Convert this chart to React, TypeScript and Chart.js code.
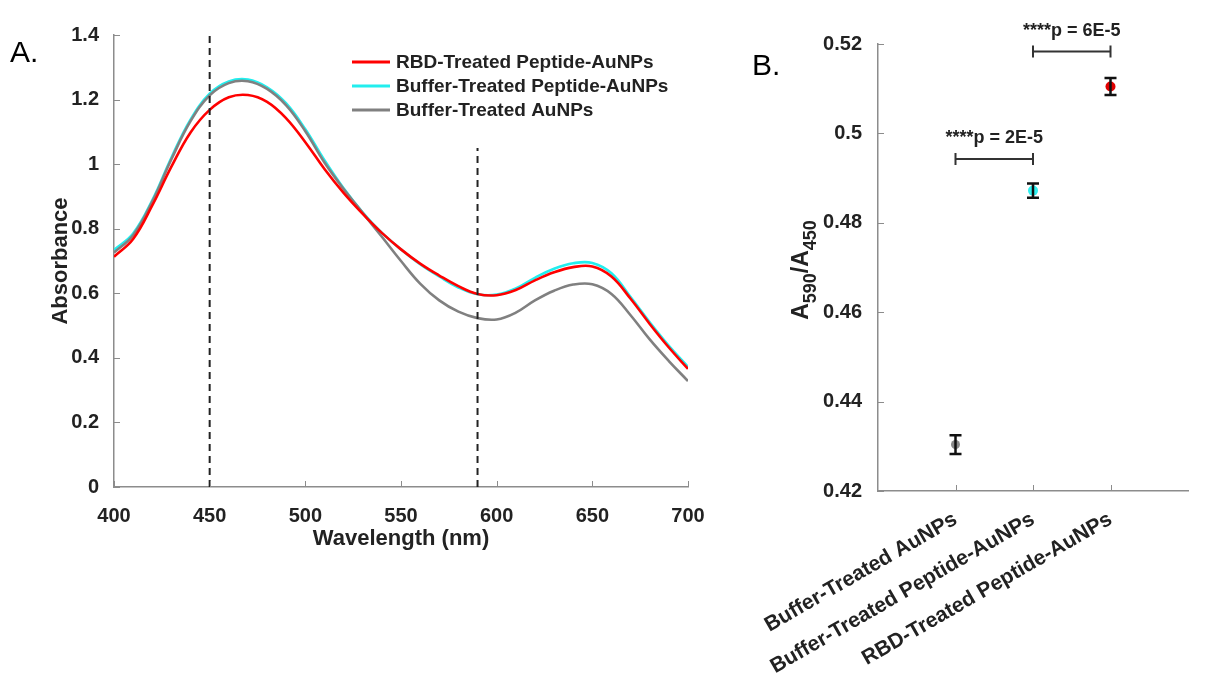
import React, { useEffect, useRef } from "react";
import { Chart, registerables } from "chart.js";

Chart.register(...registerables);

const FONT = "'Liberation Sans', Arial, Helvetica, sans-serif";
const TEXT = "#222222";
const AXIS = "#8c8c8c";

// ---------- Panel A data ----------
const wavelengths = [400, 410, 420, 430, 440, 450, 460, 470, 480, 490, 500, 510, 520, 530, 540, 550, 560, 570, 580, 590, 600, 610, 620, 630, 640, 650, 660, 670, 680, 690, 700];
const rbdPeptideAbs = [0.713, 0.768, 0.872, 0.992, 1.098, 1.168, 1.207, 1.214, 1.193, 1.142, 1.068, 0.985, 0.911, 0.846, 0.787, 0.736, 0.692, 0.655, 0.622, 0.598, 0.594, 0.61, 0.64, 0.665, 0.681, 0.683, 0.652, 0.583, 0.505, 0.432, 0.366];
const bufferPeptideAbs = [0.734, 0.785, 0.888, 1.02, 1.138, 1.218, 1.256, 1.262, 1.238, 1.188, 1.108, 1.012, 0.925, 0.85, 0.787, 0.736, 0.69, 0.652, 0.618, 0.597, 0.596, 0.615, 0.648, 0.676, 0.693, 0.694, 0.662, 0.588, 0.51, 0.437, 0.372];
const bufferAuAbs = [0.726, 0.78, 0.884, 1.015, 1.133, 1.213, 1.251, 1.257, 1.233, 1.182, 1.102, 1.005, 0.923, 0.849, 0.775, 0.7, 0.63, 0.578, 0.543, 0.523, 0.519, 0.54, 0.578, 0.608, 0.627, 0.628, 0.598, 0.532, 0.457, 0.39, 0.328];
const seriesLabelsA = ["RBD-Treated Peptide-AuNPs", "Buffer-Treated Peptide-AuNPs", "Buffer-Treated AuNPs"];
const seriesColorsA = ["#ff0000", "#22eeee", "#808080"];
const xTicksA = [400, 450, 500, 550, 600, 650, 700];
const yTicksA = [0, 0.2, 0.4, 0.6, 0.8, 1, 1.2, 1.4];
const markerWavelengths = [450, 590];
const markerTops = [1.4, 1.05];

// ---------- Panel B data ----------
const categoriesB = ["Buffer-Treated AuNPs", "Buffer-Treated Peptide-AuNPs", "RBD-Treated Peptide-AuNPs"];
const categoryPos = [1, 2, 3];
const ratioMeans = [0.4304, 0.4872, 0.5105];
const ratioErrors = [0.0021, 0.0016, 0.0019];
const ratioColors = ["#8a8a8a", "#2ff0f0", "#e00000"];
const yTicksB = [0.42, 0.44, 0.46, 0.48, 0.5, 0.52];
const sigFrom = [1, 2];
const sigTo = [2, 3];
const sigLevels = [0.4943, 0.5183];
const sigLabels = ["****p = 2E-5", "****p = 6E-5"];

const fmt = (v: number) => String(Number(Number(v).toFixed(2)));

const inwardTicks = {
  id: "inwardTicks",
  afterDraw(chart: any) {
    const { ctx, chartArea: a, scales } = chart;
    ctx.save();
    ctx.strokeStyle = AXIS;
    ctx.lineWidth = 1;
    const xs = scales.x;
    const ys = scales.y;
    xs.ticks.forEach((t: any) => {
      const p = Math.round(xs.getPixelForValue(t.value)) + 0.5;
      ctx.beginPath();
      ctx.moveTo(p, a.bottom);
      ctx.lineTo(p, a.bottom - 6);
      ctx.stroke();
    });
    ys.ticks.forEach((t: any) => {
      const p = Math.round(ys.getPixelForValue(t.value)) + 0.5;
      ctx.beginPath();
      ctx.moveTo(a.left, p);
      ctx.lineTo(a.left + 6, p);
      ctx.stroke();
    });
    ctx.restore();
  },
};

const panelLetter = (letter: string, x: number, y: number) => ({
  id: "panelLetter" + letter,
  afterDraw(chart: any) {
    const { ctx } = chart;
    ctx.save();
    ctx.fillStyle = "#000";
    ctx.font = `30px ${FONT}`;
    ctx.textBaseline = "alphabetic";
    ctx.textAlign = "left";
    ctx.fillText(letter, x, y);
    ctx.restore();
  },
});

const legendA = {
  id: "legendA",
  afterDraw(chart: any) {
    const { ctx } = chart;
    ctx.save();
    ctx.font = `bold 19px ${FONT}`;
    ctx.textBaseline = "middle";
    ctx.textAlign = "left";
    seriesLabelsA.forEach((lab, i) => {
      const y = 62 + i * 24;
      ctx.strokeStyle = seriesColorsA[i];
      ctx.lineWidth = 3;
      ctx.beginPath();
      ctx.moveTo(352, y);
      ctx.lineTo(390, y);
      ctx.stroke();
      ctx.fillStyle = TEXT;
      ctx.fillText(lab, 396, y + 1);
    });
    ctx.restore();
  },
};

const errorBarsB = {
  id: "errorBarsB",
  afterDatasetsDraw(chart: any) {
    const { ctx, scales } = chart;
    const xs = scales.x;
    const ys = scales.y;
    ctx.save();
    ctx.strokeStyle = "#111";
    ctx.lineWidth = 2.5;
    categoryPos.forEach((c, i) => {
      const x = xs.getPixelForValue(c);
      const yt = ys.getPixelForValue(ratioMeans[i] + ratioErrors[i]);
      const yb = ys.getPixelForValue(ratioMeans[i] - ratioErrors[i]);
      ctx.beginPath();
      ctx.moveTo(x, yt);
      ctx.lineTo(x, yb);
      ctx.moveTo(x - 6, yt);
      ctx.lineTo(x + 6, yt);
      ctx.moveTo(x - 6, yb);
      ctx.lineTo(x + 6, yb);
      ctx.stroke();
    });
    ctx.strokeStyle = "#333";
    ctx.lineWidth = 2;
    ctx.fillStyle = TEXT;
    ctx.font = `bold 18px ${FONT}`;
    ctx.textAlign = "center";
    ctx.textBaseline = "middle";
    sigLevels.forEach((lv, i) => {
      const x1 = xs.getPixelForValue(sigFrom[i]);
      const x2 = xs.getPixelForValue(sigTo[i]);
      const y = ys.getPixelForValue(lv);
      ctx.beginPath();
      ctx.moveTo(x1, y);
      ctx.lineTo(x2, y);
      ctx.moveTo(x1, y - 6);
      ctx.lineTo(x1, y + 6);
      ctx.moveTo(x2, y - 6);
      ctx.lineTo(x2, y + 6);
      ctx.stroke();
      ctx.fillText(sigLabels[i], (x1 + x2) / 2, y - 21);
    });
    ctx.restore();
  },
};

const yLabelB = {
  id: "yLabelB",
  afterDraw(chart: any) {
    const { ctx } = chart;
    const parts: [string, boolean][] = [["A", false], ["590", true], ["/A", false], ["450", true]];
    const big = `bold 23px ${FONT}`;
    const small = `bold 18px ${FONT}`;
    ctx.save();
    let total = 0;
    parts.forEach(([t, sub]) => {
      ctx.font = sub ? small : big;
      total += ctx.measureText(t).width;
    });
    ctx.translate(68, 270);
    ctx.rotate(-Math.PI / 2);
    ctx.fillStyle = TEXT;
    ctx.textBaseline = "alphabetic";
    ctx.textAlign = "left";
    let x = -total / 2;
    parts.forEach(([t, sub]) => {
      ctx.font = sub ? small : big;
      ctx.fillText(t, x, sub ? 8 : 0);
      x += ctx.measureText(t).width;
    });
    ctx.restore();
  },
};

export default function App() {
  const refA = useRef<HTMLCanvasElement | null>(null);
  const refB = useRef<HTMLCanvasElement | null>(null);

  useEffect(() => {
    const tickFont = { family: FONT, size: 20, weight: "bold" as const };
    const catFont = { family: FONT, size: 21, weight: "bold" as const };
    const titleFont = { family: FONT, size: 22, weight: "bold" as const };

    const line = (vals: number[], color: string) => ({
      data: wavelengths.map((x, i) => ({ x, y: vals[i] })),
      borderColor: color,
      backgroundColor: color,
      borderWidth: 2.6,
      pointRadius: 0,
      tension: 0.4,
      fill: false,
    });
    const dashed = (i: number) => ({
      data: [
        { x: markerWavelengths[i], y: 0 },
        { x: markerWavelengths[i], y: markerTops[i] },
      ],
      borderColor: "#222",
      borderWidth: 2,
      borderDash: [7, 5],
      pointRadius: 0,
      tension: 0,
      fill: false,
    });

    const chartA = new Chart(refA.current as HTMLCanvasElement, {
      type: "line",
      data: {
        datasets: [
          dashed(0),
          dashed(1),
          line(rbdPeptideAbs, seriesColorsA[0]),
          line(bufferAuAbs, seriesColorsA[2]),
          line(bufferPeptideAbs, seriesColorsA[1]),
        ],
      },
      options: {
        animation: false,
        responsive: false,
        layout: { padding: { left: 0, top: 35, right: 52, bottom: 0 } },
        plugins: { legend: { display: false }, tooltip: { enabled: false } },
        scales: {
          x: {
            type: "linear",
            min: 400,
            max: 700,
            afterBuildTicks: (s: any) => {
              s.ticks = xTicksA.map((v) => ({ value: v }));
            },
            ticks: { font: tickFont, color: TEXT, padding: 9, callback: (v: any) => fmt(v) },
            grid: { display: false },
            border: { display: true, color: AXIS, width: 1.5 },
            title: { display: true, text: "Wavelength (nm)", font: titleFont, color: TEXT, padding: { top: 0, bottom: 48 } },
            afterFit: (s: any) => {
              s.height = 113;
              s.paddingLeft = 0;
              s.paddingRight = 0;
            },
          },
          y: {
            type: "linear",
            min: 0,
            max: 1.4,
            afterBuildTicks: (s: any) => {
              s.ticks = yTicksA.map((v) => ({ value: v }));
            },
            ticks: { font: tickFont, color: TEXT, padding: 7, callback: (v: any) => fmt(v) },
            grid: { display: false },
            border: { display: true, color: AXIS, width: 1.5 },
            title: { display: true, text: "Absorbance", font: titleFont, color: TEXT, padding: { top: 48, bottom: 0 } },
            afterFit: (s: any) => {
              s.width = 114;
              s.paddingTop = 0;
              s.paddingBottom = 0;
            },
          },
        },
      } as any,
      plugins: [inwardTicks, legendA, panelLetter("A.", 10, 62)],
    });

    const chartB = new Chart(refB.current as HTMLCanvasElement, {
      type: "scatter",
      data: {
        datasets: categoryPos.map((c, i) => ({
          data: [{ x: c, y: ratioMeans[i] }],
          backgroundColor: ratioColors[i],
          borderWidth: 0,
          pointRadius: i === 0 ? 4.5 : 5,
        })),
      },
      options: {
        animation: false,
        responsive: false,
        layout: { padding: { left: 0, top: 44, right: 37, bottom: 0 } },
        plugins: { legend: { display: false }, tooltip: { enabled: false } },
        scales: {
          x: {
            type: "linear",
            min: 0,
            max: 4,
            afterBuildTicks: (s: any) => {
              s.ticks = categoryPos.map((v) => ({ value: v }));
            },
            ticks: {
              font: catFont,
              color: TEXT,
              padding: 8,
              autoSkip: false,
              minRotation: 30,
              maxRotation: 30,
              callback: (v: any) => {
                const k = categoryPos.indexOf(Number(v));
                return k >= 0 ? categoriesB[k] : "";
              },
            },
            grid: { display: false },
            border: { display: true, color: AXIS, width: 1.5 },
            afterFit: (s: any) => {
              s.height = 190;
              s.paddingLeft = 0;
              s.paddingRight = 0;
            },
          },
          y: {
            type: "linear",
            min: 0.42,
            max: 0.52,
            afterBuildTicks: (s: any) => {
              s.ticks = yTicksB.map((v) => ({ value: v }));
            },
            ticks: { font: tickFont, color: TEXT, padding: 8, callback: (v: any) => fmt(v) },
            grid: { display: false },
            border: { display: true, color: AXIS, width: 1.5 },
            afterFit: (s: any) => {
              s.width = 138;
              s.paddingTop = 0;
              s.paddingBottom = 0;
            },
          },
        },
      } as any,
      plugins: [inwardTicks, errorBarsB, yLabelB, panelLetter("B.", 12, 75)],
    });

    return () => {
      chartA.destroy();
      chartB.destroy();
    };
  }, []);

  return (
    <div style={{ position: "fixed", left: 0, top: 0, width: 1225, height: 681, background: "#fff", overflow: "hidden" }}>
      <canvas ref={refA} width={740} height={600} style={{ position: "absolute", left: 0, top: 0, width: 740, height: 600 }} />
      <canvas ref={refB} width={485} height={681} style={{ position: "absolute", left: 740, top: 0, width: 485, height: 681 }} />
    </div>
  );
}
